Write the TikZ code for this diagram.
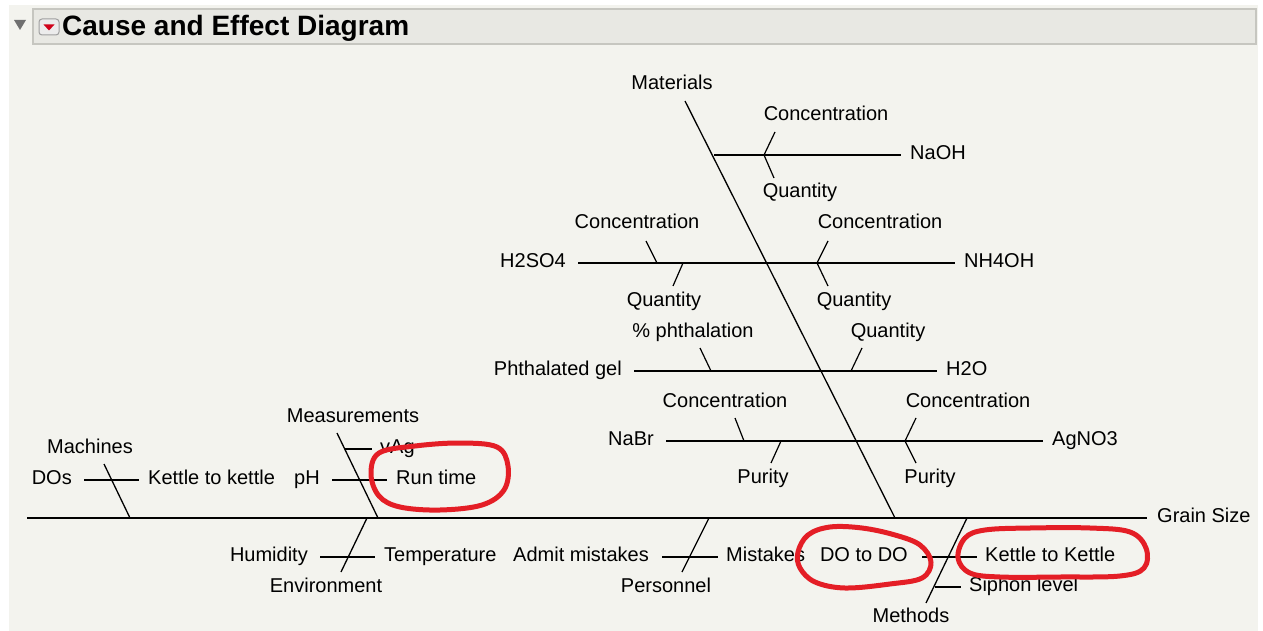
\documentclass[tikz,border=0pt]{standalone}
\usepackage{fontspec}
\setmainfont{Liberation Sans}
\usetikzlibrary{positioning}
\definecolor{panelbg}{HTML}{F3F3EE}
\definecolor{titlebg}{HTML}{E8E8E3}
\definecolor{titleline}{HTML}{C6C6C0}
\definecolor{disclosure}{HTML}{707070}
\definecolor{menured}{HTML}{D0021B}
\definecolor{markred}{HTML}{E41E26}

\begin{document}
\begin{tikzpicture}[
    x=1pt, y=-1pt,
    node distance=9pt,
    % labels of causes
    lbl/.style={inner sep=0pt, font=\fontsize{20}{24}\selectfont, text height=14pt, text depth=0pt},
    % labels at the ends of the lines
    endlbl/.style={lbl, yshift=2.5pt},
    % spine and main bones
    bone/.style={draw=black, line width=1.3pt},
    % sub-causes
    twig/.style={draw=black, line width=1.2pt},
    % hand-drawn red rings
    redloop/.style={draw=markred, line width=5pt, line cap=round, line join=round}
]

    % --- 0. Panel and title bar ---
    \useasboundingbox (0,0) rectangle (1263,631);
    \fill[white] (0,0) rectangle (1263,631);
    \fill[panelbg] (9,5) rectangle (1258,631);
    \draw[titleline, fill=titlebg, line width=1.5pt] (33,9) rectangle (1256,44);
    \fill[disclosure] (14,20) -- (26,20) -- (20,30) -- cycle;
    \node[draw=gray!75, line width=1pt, fill=white!85!gray, rounded corners=3pt,
          minimum width=20pt, minimum height=16pt, inner sep=0pt] (menubtn) at (49,27) {};
    \fill[menured] (43.5,24.5) -- (54.5,24.5) -- (49,30.5) -- cycle;
    \node[anchor=base west, inner sep=0pt, font=\fontsize{28}{32}\selectfont\bfseries]
        (title) at (62,36) {Cause and Effect Diagram};

    % --- 1. Spine ---
    \coordinate (spineL) at (27,518);
    \coordinate (spineR) at (1147,518);
    \draw[bone] (spineL) -- (spineR);
    \node[endlbl, right=10pt of spineR] (grainsize) {Grain Size};

    % --- 2. Materials ---
    \coordinate (matTop) at (685,101);
    \coordinate (matEnd) at (895,518);
    \draw[bone] (matTop) -- (matEnd);
    \node[lbl] (materials) at (672,83) {Materials};

    % NaOH
    \coordinate (naohA) at (714,155);
    \coordinate (naohB) at (901,155);
    \draw[twig] (naohA) -- (naohB);
    \node[endlbl, right=of naohB] (naoh) {NaOH};
    \coordinate (naohK) at (764,155);
    \coordinate (naohC) at (775,132);
    \coordinate (naohQ) at (774,178);
    \draw[twig] (naohC) -- (naohK) -- (naohQ);
    \node[lbl] (naohConc) at (826,114) {Concentration};
    \node[lbl] (naohQty) at (800,190) {Quantity};

    % H2SO4 / NH4OH
    \coordinate (acidA) at (578,263);
    \coordinate (acidB) at (955,263);
    \draw[twig] (acidA) -- (acidB);
    \node[endlbl, left=12pt of acidA] (h2so4) {H2SO4};
    \node[endlbl, right=of acidB] (nh4oh) {NH4OH};
    \draw[twig] (646,241) coordinate (acidC1) -- (657,263) coordinate (acidK1);
    \draw[twig] (683,263) coordinate (acidK2) -- (673,286) coordinate (acidQ1);
    \node[lbl] (h2so4Conc) at (637,222) {Concentration};
    \node[lbl] (h2so4Qty) at (664,299) {Quantity};
    \coordinate (baseK) at (817,263);
    \coordinate (baseC) at (828,241);
    \coordinate (baseQ) at (828,286);
    \draw[twig] (baseC) -- (baseK) -- (baseQ);
    \node[lbl] (nh4ohConc) at (880,222) {Concentration};
    \node[lbl] (nh4ohQty) at (854,299) {Quantity};

    % Phthalated gel / H2O
    \coordinate (gelA) at (634,371);
    \coordinate (gelB) at (937,371);
    \draw[twig] (gelA) -- (gelB);
    \node[endlbl, left=12pt of gelA] (gel) {Phthalated gel};
    \node[endlbl, right=of gelB] (h2o) {H2O};
    \draw[twig] (700,348) coordinate (gelP) -- (711,371) coordinate (gelK);
    \draw[twig] (862,348) coordinate (waterQ) -- (851,371) coordinate (waterK);
    \node[lbl] (gelPct) at (693,330) {\% phthalation};
    \node[lbl] (waterQty) at (888,330) {Quantity};

    % NaBr / AgNO3
    \coordinate (saltA) at (666,441);
    \coordinate (saltB) at (1043,441);
    \draw[twig] (saltA) -- (saltB);
    \node[endlbl, left=12pt of saltA] (nabr) {NaBr};
    \node[endlbl, right=of saltB] (agno3) {AgNO3};
    \draw[twig] (735,418) coordinate (nabrC) -- (744,441) coordinate (nabrK1);
    \draw[twig] (781,441) coordinate (nabrK2) -- (771,463) coordinate (nabrP);
    \node[lbl] (nabrConc) at (725,400) {Concentration};
    \node[lbl] (nabrPur) at (763,476) {Purity};
    \coordinate (silverK) at (905,441);
    \coordinate (silverC) at (916,418);
    \coordinate (silverP) at (916,463);
    \draw[twig] (silverC) -- (silverK) -- (silverP);
    \node[lbl] (agno3Conc) at (968,400) {Concentration};
    \node[lbl] (agno3Pur) at (930,476) {Purity};

    % --- 3. Machines ---
    \coordinate (macTop) at (104,464);
    \coordinate (macEnd) at (130,518);
    \draw[bone] (macTop) -- (macEnd);
    \node[lbl] (machines) at (90,446) {Machines};
    \coordinate (macA) at (84,480);
    \coordinate (macB) at (139,480);
    \draw[twig] (macA) -- (macB);
    \node[endlbl, left=12pt of macA] (dos) {DOs};
    \node[endlbl, right=of macB] (kettlek) {Kettle to kettle};

    % --- 4. Measurements ---
    \coordinate (meaTop) at (337,433);
    \coordinate (meaEnd) at (378,518);
    \draw[bone] (meaTop) -- (meaEnd);
    \node[lbl] (measurements) at (353,415) {Measurements};
    \coordinate (vagA) at (345,449);
    \coordinate (vagB) at (372,449);
    \draw[twig] (vagA) -- (vagB);
    \node[endlbl, right=8pt of vagB] (vag) {vAg};
    \coordinate (phA) at (332,480);
    \coordinate (phB) at (387,480);
    \draw[twig] (phA) -- (phB);
    \node[endlbl, left=12pt of phA] (ph) {pH};
    \node[endlbl, right=of phB] (runtime) {Run time};

    % --- 5. Environment ---
    \coordinate (envTop) at (367,518);
    \coordinate (envEnd) at (341,572);
    \draw[bone] (envTop) -- (envEnd);
    \node[lbl] (environment) at (326,585) {Environment};
    \coordinate (envA) at (320,557);
    \coordinate (envB) at (375,557);
    \draw[twig] (envA) -- (envB);
    \node[endlbl, left=12pt of envA] (humidity) {Humidity};
    \node[endlbl, right=of envB] (temperature) {Temperature};

    % --- 6. Personnel ---
    \coordinate (perTop) at (709,518);
    \coordinate (perEnd) at (682,572);
    \draw[bone] (perTop) -- (perEnd);
    \node[lbl] (personnel) at (666,585) {Personnel};
    \coordinate (perA) at (662,557);
    \coordinate (perB) at (718,557);
    \draw[twig] (perA) -- (perB);
    \node[endlbl, left=13pt of perA] (admit) {Admit mistakes};
    \node[endlbl, right=8pt of perB] (mistakes) {Mistakes};

    % --- 7. Methods ---
    \coordinate (metTop) at (967,518);
    \coordinate (metEnd) at (926,603);
    \draw[bone] (metTop) -- (metEnd);
    \node[lbl] (methods) at (911,615) {Methods};
    \coordinate (metA) at (922,557);
    \coordinate (metB) at (977,557);
    \draw[twig] (metA) -- (metB);
    \node[endlbl, left=14pt of metA] (dotodo) {DO to DO};
    \node[endlbl, right=8pt of metB] (kettleK) {Kettle to Kettle};
    \coordinate (sipA) at (935,587);
    \coordinate (sipB) at (961,587);
    \draw[twig] (sipA) -- (sipB);
    \node[endlbl, right=8pt of sipB] (siphon) {Siphon level};

    % --- 8. Red rings drawn over the chart ---
    \draw[redloop] plot[smooth cycle, tension=0.6] coordinates {
        (379,453) (415,446) (460,443) (497,447) (508,466) (504,490)
        (482,505) (440,510) (400,507) (379,496) (371,474)};
    \draw[redloop] plot[smooth cycle, tension=0.6] coordinates {
        (798,552) (808,535) (830,527) (862,528) (895,535) (920,545)
        (931,562) (922,578) (890,584) (845,588) (815,582) (800,568)};
    \draw[redloop] plot[smooth cycle, tension=0.6] coordinates {
        (958,558) (965,538) (985,530) (1030,528) (1090,528) (1130,532)
        (1146,548) (1144,568) (1120,576) (1060,577) (1000,577) (970,573)};

\end{tikzpicture}
\end{document}
